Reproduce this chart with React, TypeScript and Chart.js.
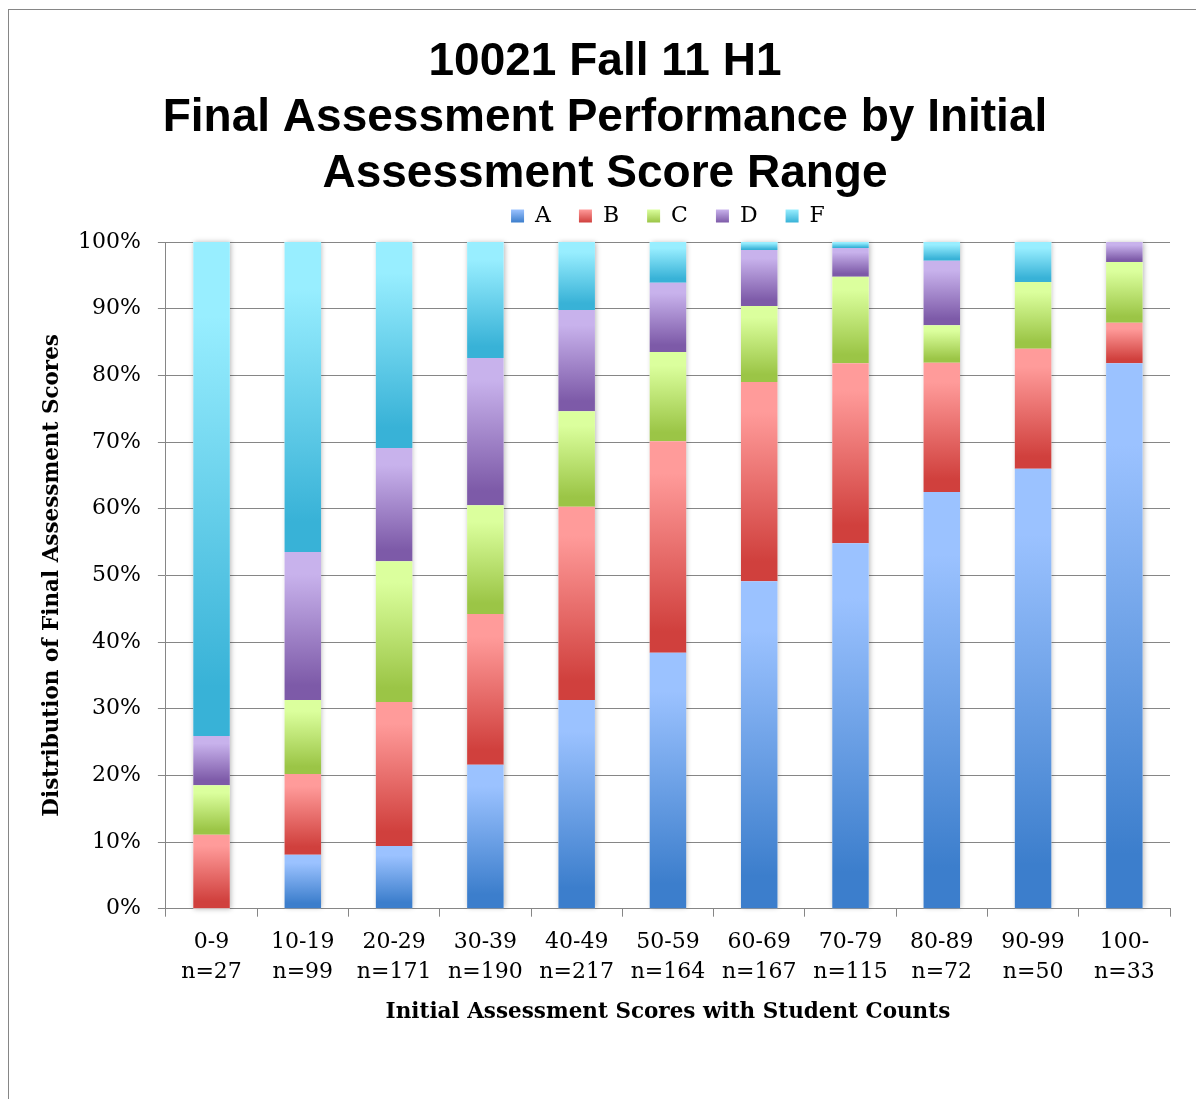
import React, { useEffect, useRef } from 'react';
import { Chart, registerables } from 'chart.js';

Chart.register(...registerables);

// ---- data ----
const categories = ['0-9', '10-19', '20-29', '30-39', '40-49', '50-59', '60-69', '70-79', '80-89', '90-99', '100-'];
const studentCounts = ['n=27', 'n=99', 'n=171', 'n=190', 'n=217', 'n=164', 'n=167', 'n=115', 'n=72', 'n=50', 'n=33'];
const gradeNames = ['A', 'B', 'C', 'D', 'F'];
const gradeA = [0, 8.1, 9.4, 21.6, 31.3, 38.4, 49.1, 54.8, 62.5, 66.0, 81.8];
const gradeB = [11.1, 12.1, 21.6, 22.6, 29.0, 31.7, 29.9, 27.0, 19.4, 18.0, 6.1];
const gradeC = [7.4, 11.1, 21.1, 16.3, 14.3, 13.4, 11.4, 13.0, 5.6, 10.0, 9.1];
const gradeD = [7.4, 22.2, 17.0, 22.1, 15.2, 10.4, 8.4, 4.3, 9.7, 0, 3.0];
const gradeF = [74.1, 46.5, 30.9, 17.4, 10.2, 6.1, 1.2, 0.9, 2.8, 6.0, 0];
const yTicks = [0, 10, 20, 30, 40, 50, 60, 70, 80, 90, 100];

const seriesList = [gradeA, gradeB, gradeC, gradeD, gradeF];

// ---- styles ----
const lightColors = ['#9BC2FF', '#FF9B9A', '#DBFF9D', '#C8B2EC', '#98EEFF'];
const midColors = ['#6D9FE6', '#E86F6C', '#BDE272', '#A386CC', '#68D0EB'];
const darkColors = ['#3C7ECC', '#D0403D', '#9BC546', '#7D5AA8', '#38B2D7'];
const GRID = '#868686';
const LEGEND_BOX_HEIGHT = 65;
const LEGEND_MARK = 13;

function makeBg(di: number) {
  return (ctx: any) => {
    const chart = ctx.chart;
    const y = chart.scales && chart.scales.y;
    if (!chart.chartArea || !y || ctx.dataIndex == null) return midColors[di];
    let base = 0;
    for (let k = 0; k < di; k++) base += seriesList[k][ctx.dataIndex];
    const top = base + seriesList[di][ctx.dataIndex];
    const yTop = y.getPixelForValue(top);
    const yBot = y.getPixelForValue(base);
    if (!isFinite(yTop) || !isFinite(yBot) || yBot - yTop < 0.5) return darkColors[di];
    const g = chart.ctx.createLinearGradient(0, yTop, 0, yBot);
    g.addColorStop(0, lightColors[di]);
    g.addColorStop(0.15, lightColors[di]);
    g.addColorStop(0.9, darkColors[di]);
    g.addColorStop(1, darkColors[di]);
    return g;
  };
}

const legendHeightPlugin = {
  id: 'legendHeight',
  afterInit(chart: any) {
    const lg = chart.legend;
    if (!lg) return;
    const orig = lg.fit.bind(lg);
    lg.fit = function () {
      orig();
      this.height = LEGEND_BOX_HEIGHT;
      if (this._minSize) this._minSize.height = LEGEND_BOX_HEIGHT;
    };
  },
  beforeDraw(chart: any) {
    const lg = chart.legend;
    if (!lg || !lg.legendItems || !lg.legendHitBoxes) return;
    const fontSize = 22;
    lg.legendItems.forEach((item: any, i: number) => {
      const hb = lg.legendHitBoxes[i];
      if (!hb) return;
      const t = hb.top + Math.max((fontSize - LEGEND_MARK) / 2, 0);
      const g = chart.ctx.createLinearGradient(0, t, 0, t + LEGEND_MARK);
      g.addColorStop(0, lightColors[i]);
      g.addColorStop(1, darkColors[i]);
      item.fillStyle = g;
    });
  },
};

const shadowPlugin = {
  id: 'barShadow',
  beforeDatasetsDraw(chart: any) {
    const ctx = chart.ctx;
    const n = chart.data.labels.length;
    const metas = chart.data.datasets.map((_: any, i: number) => chart.getDatasetMeta(i));
    ctx.save();
    ctx.shadowColor = 'rgba(0,0,0,0.28)';
    ctx.shadowBlur = 5;
    ctx.shadowOffsetX = 1;
    ctx.shadowOffsetY = 0;
    ctx.fillStyle = '#ffffff';
    for (let j = 0; j < n; j++) {
      let top = Infinity;
      let bottom = -Infinity;
      let x = 0;
      let w = 0;
      metas.forEach((m: any) => {
        const el = m.data[j];
        if (!el) return;
        const p = el.getProps(['x', 'y', 'base', 'width'], true);
        x = p.x;
        w = p.width;
        top = Math.min(top, p.y, p.base);
        bottom = Math.max(bottom, p.y, p.base);
      });
      if (isFinite(top) && w > 0) ctx.fillRect(x - w / 2, top, w, bottom - top);
    }
    ctx.restore();
  },
};

export default function App() {
  const ref = useRef<HTMLCanvasElement | null>(null);

  useEffect(() => {
    if (!ref.current) return;
    const chart = new Chart(ref.current, {
      type: 'bar',
      data: {
        labels: categories.map((c, i) => [c, studentCounts[i]]),
        datasets: seriesList.map((vals, i) => ({
          label: gradeNames[i],
          data: vals,
          backgroundColor: makeBg(i),
          borderWidth: 0,
          barPercentage: 0.4,
          categoryPercentage: 1,
        })),
      },
      options: {
        responsive: false,
        animation: false,
        devicePixelRatio: 1,
        color: '#000',
        layout: { padding: { left: 31, right: 31, top: 0, bottom: 75 } },
        plugins: {
          title: {
            display: true,
            text: ['10021 Fall 11 H1', 'Final Assessment Performance by Initial', 'Assessment Score Range'],
            color: '#000',
            font: { family: "'Liberation Sans', Arial, sans-serif", size: 46, weight: 'bold', lineHeight: 56 / 46 },
            padding: { top: 24, bottom: -25 },
          },
          legend: {
            display: true,
            position: 'top',
            fullSize: false,
            labels: {
              color: '#000',
              font: { family: "'DejaVu Serif', serif", size: 22 },
              boxWidth: LEGEND_MARK,
              boxHeight: LEGEND_MARK,
              padding: 28,
              generateLabels: (chart: any) =>
                chart.data.datasets.map((ds: any, i: number) => ({
                  text: ds.label,
                  fillStyle: midColors[i],
                  strokeStyle: 'rgba(0,0,0,0)',
                  lineWidth: 0,
                  hidden: false,
                  datasetIndex: i,
                  fontColor: '#000',
                })),
            },
          },
          tooltip: { enabled: false },
        },
        scales: {
          x: {
            stacked: true,
            offset: true,
            grid: { display: true, drawOnChartArea: false, drawTicks: true, tickLength: 8, color: GRID, offset: true },
            border: { display: true, color: GRID, width: 1 },
            ticks: {
              color: '#000',
              font: { family: "'DejaVu Serif', serif", size: 22, lineHeight: 30 / 22 },
              padding: 11,
              maxRotation: 0,
              minRotation: 0,
              autoSkip: false,
            },
            title: {
              display: true,
              text: 'Initial Assessment Scores with Student Counts',
              color: '#000',
              font: { family: "'DejaVu Serif', serif", size: 21.5, weight: 'bold', lineHeight: 1.2 },
              padding: { top: 0.5, bottom: 0 },
            },
          },
          y: {
            stacked: true,
            min: yTicks[0],
            max: yTicks[yTicks.length - 1],
            afterBuildTicks: (scale: any) => {
              scale.ticks = yTicks.map((v) => ({ value: v }));
            },
            grid: { display: true, drawOnChartArea: true, drawTicks: true, tickLength: 8, color: GRID },
            border: { display: true, color: GRID, width: 1 },
            ticks: {
              color: '#000',
              font: { family: "'DejaVu Serif', serif", size: 22 },
              padding: 17,
              callback: (v: any) => v + '%',
            },
            title: {
              display: true,
              text: 'Distribution of Final Assessment Scores',
              color: '#000',
              font: { family: "'DejaVu Serif', serif", size: 21.5, weight: 'bold', lineHeight: 1.2 },
              padding: { top: 0, bottom: -4.8 },
            },
          },
        },
      },
      plugins: [legendHeightPlugin, shadowPlugin],
    } as any);
    return () => chart.destroy();
  }, []);

  return (
    <div
      style={{
        position: 'relative',
        top: 1,
        left: -2,
        width: 1192,
        height: 1090,
        borderLeft: '3px solid #868686',
        borderRight: '3px solid #868686',
        borderTop: '1px solid #868686',
        background: '#fff',
      }}
    >
      <canvas ref={ref} width={1192} height={1090} style={{ display: 'block', width: 1192, height: 1090 }} />
    </div>
  );
}
